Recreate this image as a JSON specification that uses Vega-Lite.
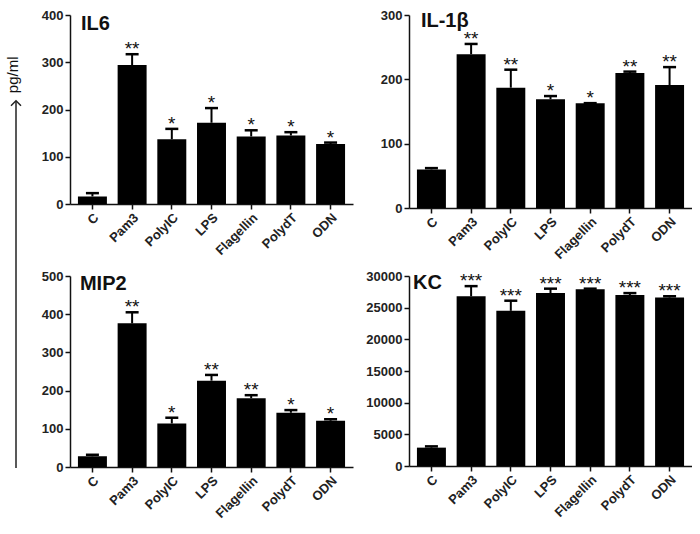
{
  "$schema": "https://vega.github.io/schema/vega-lite/v6.json",
  "padding": {"left": 5, "top": 9, "right": 0, "bottom": 0},
  "background": "white",
  "datasets": {
    "il6": [
      {"stim": "C", "mean": 16, "upper": 23, "sig": ""},
      {"stim": "Pam3", "mean": 294, "upper": 317, "sig": "**"},
      {"stim": "PolyIC", "mean": 137, "upper": 159, "sig": "*"},
      {"stim": "LPS", "mean": 172, "upper": 203, "sig": "*"},
      {"stim": "Flagellin", "mean": 143, "upper": 156, "sig": "*"},
      {"stim": "PolydT", "mean": 145, "upper": 152, "sig": "*"},
      {"stim": "ODN", "mean": 127, "upper": 130, "sig": "*"}
    ],
    "il1b": [
      {"stim": "C", "mean": 60, "upper": 62, "sig": ""},
      {"stim": "Pam3", "mean": 239, "upper": 255, "sig": "**"},
      {"stim": "PolyIC", "mean": 187, "upper": 215, "sig": "**"},
      {"stim": "LPS", "mean": 169, "upper": 174, "sig": "*"},
      {"stim": "Flagellin", "mean": 163, "upper": 163, "sig": "*"},
      {"stim": "PolydT", "mean": 210, "upper": 212, "sig": "**"},
      {"stim": "ODN", "mean": 191, "upper": 219, "sig": "**"}
    ],
    "mip2": [
      {"stim": "C", "mean": 28, "upper": 32, "sig": ""},
      {"stim": "Pam3", "mean": 376, "upper": 405, "sig": "**"},
      {"stim": "PolyIC", "mean": 114, "upper": 129, "sig": "*"},
      {"stim": "LPS", "mean": 226, "upper": 241, "sig": "**"},
      {"stim": "Flagellin", "mean": 180, "upper": 188, "sig": "**"},
      {"stim": "PolydT", "mean": 142, "upper": 149, "sig": "*"},
      {"stim": "ODN", "mean": 121, "upper": 125, "sig": "*"}
    ],
    "kc": [
      {"stim": "C", "mean": 2900, "upper": 3100, "sig": ""},
      {"stim": "Pam3", "mean": 26800, "upper": 28400, "sig": "***"},
      {"stim": "PolyIC", "mean": 24500, "upper": 26100, "sig": "***"},
      {"stim": "LPS", "mean": 27300, "upper": 28000, "sig": "***"},
      {"stim": "Flagellin", "mean": 27900, "upper": 28000, "sig": "***"},
      {"stim": "PolydT", "mean": 27000, "upper": 27300, "sig": "***"},
      {"stim": "ODN", "mean": 26600, "upper": 26800, "sig": "***"}
    ]
  },
  "spacing": 15,
  "hconcat": [
    {
      "width": 20,
      "height": 453,
      "data": {"values": [{}]},
      "layer": [
        {
          "mark": {"type": "rule", "stroke": "#222", "strokeWidth": 1.5},
          "encoding": {
            "x": {"datum": 0.5, "type": "quantitative", "scale": {"domain": [0, 1]}, "axis": null},
            "y": {"datum": 0, "type": "quantitative", "scale": {"domain": [0, 100]}, "axis": null},
            "y2": {"datum": 81}
          }
        },
        {
          "mark": {"type": "point", "shape": "M-1,0.5L0,-0.5L1,0.5", "filled": false, "stroke": "#222", "strokeWidth": 1.5, "size": 100, "opacity": 1},
          "encoding": {
            "x": {"datum": 0.5, "type": "quantitative", "axis": null},
            "y": {"datum": 80.5, "type": "quantitative", "axis": null}
          }
        },
        {
          "mark": {"type": "text", "text": "pg/ml", "angle": 270, "fontSize": 15, "align": "center", "baseline": "middle", "dy": -3, "color": "#111"},
          "encoding": {
            "x": {"datum": 0.5, "type": "quantitative", "axis": null},
            "y": {"datum": 86.8, "type": "quantitative", "axis": null}
          }
        }
      ]
    },
    {
      "columns": 2,
      "spacing": {"column": 12, "row": 8},
      "concat": [
        {
          "width": 283,
          "height": 189,
          "data": {"name": "il6"},
          "encoding": {
            "x": {"field": "stim", "type": "nominal", "sort": ["C", "Pam3", "PolyIC", "LPS", "Flagellin", "PolydT", "ODN"], "scale": {"paddingInner": 0.27, "paddingOuter": 0.2}, "axis": {"title": null, "labelAngle": -45}}
          },
          "layer": [
            {"mark": {"type": "rule", "color": "black", "strokeWidth": 2}, "encoding": {"y": {"field": "mean", "type": "quantitative", "scale": {"domain": [0, 400], "nice": false}, "axis": {"values": [0, 100, 200, 300, 400], "title": null, "labelOverlap": false}}, "y2": {"field": "upper"}}},
            {"mark": {"type": "tick", "color": "black", "size": 13, "thickness": 2.5, "opacity": 1}, "encoding": {"y": {"field": "upper", "type": "quantitative", "axis": {"values": [0, 100, 200, 300, 400], "title": null, "labelOverlap": false}}}},
            {"mark": {"type": "bar", "color": "black"}, "encoding": {"y": {"field": "mean", "type": "quantitative", "axis": {"values": [0, 100, 200, 300, 400], "title": null, "labelOverlap": false}}}},
            {"mark": {"type": "text", "fontSize": 19, "baseline": "alphabetic", "dy": 1, "color": "#111"}, "encoding": {"y": {"field": "upper", "type": "quantitative", "axis": {"values": [0, 100, 200, 300, 400], "title": null, "labelOverlap": false}}, "text": {"field": "sig"}}},
            {"data": {"values": [{}]}, "mark": {"type": "text", "text": "IL6", "fontSize": 20, "fontWeight": "bold", "align": "left", "baseline": "top", "dx": 3, "dy": -1, "color": "#111"}, "encoding": {"x": {"datum": "C", "bandPosition": 0}, "y": {"datum": 400, "type": "quantitative", "axis": {"values": [0, 100, 200, 300, 400], "title": null, "labelOverlap": false}}}}
          ]
        },
        {
          "width": 283,
          "height": 193,
          "data": {"name": "il1b"},
          "encoding": {
            "x": {"field": "stim", "type": "nominal", "sort": ["C", "Pam3", "PolyIC", "LPS", "Flagellin", "PolydT", "ODN"], "scale": {"paddingInner": 0.27, "paddingOuter": 0.2}, "axis": {"title": null, "labelAngle": -45}}
          },
          "layer": [
            {"mark": {"type": "rule", "color": "black", "strokeWidth": 2}, "encoding": {"y": {"field": "mean", "type": "quantitative", "scale": {"domain": [0, 300], "nice": false}, "axis": {"values": [0, 100, 200, 300], "title": null, "labelOverlap": false}}, "y2": {"field": "upper"}}},
            {"mark": {"type": "tick", "color": "black", "size": 13, "thickness": 2.5, "opacity": 1}, "encoding": {"y": {"field": "upper", "type": "quantitative", "axis": {"values": [0, 100, 200, 300], "title": null, "labelOverlap": false}}}},
            {"mark": {"type": "bar", "color": "black"}, "encoding": {"y": {"field": "mean", "type": "quantitative", "axis": {"values": [0, 100, 200, 300], "title": null, "labelOverlap": false}}}},
            {"mark": {"type": "text", "fontSize": 19, "baseline": "alphabetic", "dy": 1, "color": "#111"}, "encoding": {"y": {"field": "upper", "type": "quantitative", "axis": {"values": [0, 100, 200, 300], "title": null, "labelOverlap": false}}, "text": {"field": "sig"}}},
            {"data": {"values": [{}]}, "mark": {"type": "text", "text": "IL-1β", "fontSize": 20, "fontWeight": "bold", "align": "left", "baseline": "top", "dx": 4, "dy": -4, "color": "#111"}, "encoding": {"x": {"datum": "C", "bandPosition": 0}, "y": {"datum": 300, "type": "quantitative", "axis": {"values": [0, 100, 200, 300], "title": null, "labelOverlap": false}}}}
          ]
        },
        {
          "width": 283,
          "height": 191,
          "data": {"name": "mip2"},
          "encoding": {
            "x": {"field": "stim", "type": "nominal", "sort": ["C", "Pam3", "PolyIC", "LPS", "Flagellin", "PolydT", "ODN"], "scale": {"paddingInner": 0.27, "paddingOuter": 0.2}, "axis": {"title": null, "labelAngle": -45}}
          },
          "layer": [
            {"mark": {"type": "rule", "color": "black", "strokeWidth": 2}, "encoding": {"y": {"field": "mean", "type": "quantitative", "scale": {"domain": [0, 500], "nice": false}, "axis": {"values": [0, 100, 200, 300, 400, 500], "title": null, "labelOverlap": false}}, "y2": {"field": "upper"}}},
            {"mark": {"type": "tick", "color": "black", "size": 13, "thickness": 2.5, "opacity": 1}, "encoding": {"y": {"field": "upper", "type": "quantitative", "axis": {"values": [0, 100, 200, 300, 400, 500], "title": null, "labelOverlap": false}}}},
            {"mark": {"type": "bar", "color": "black"}, "encoding": {"y": {"field": "mean", "type": "quantitative", "axis": {"values": [0, 100, 200, 300, 400, 500], "title": null, "labelOverlap": false}}}},
            {"mark": {"type": "text", "fontSize": 19, "baseline": "alphabetic", "dy": 1, "color": "#111"}, "encoding": {"y": {"field": "upper", "type": "quantitative", "axis": {"values": [0, 100, 200, 300, 400, 500], "title": null, "labelOverlap": false}}, "text": {"field": "sig"}}},
            {"data": {"values": [{}]}, "mark": {"type": "text", "text": "MIP2", "fontSize": 20, "fontWeight": "bold", "align": "left", "baseline": "top", "dx": 2, "dy": -2, "color": "#111"}, "encoding": {"x": {"datum": "C", "bandPosition": 0}, "y": {"datum": 500, "type": "quantitative", "axis": {"values": [0, 100, 200, 300, 400, 500], "title": null, "labelOverlap": false}}}}
          ]
        },
        {
          "width": 283,
          "height": 190,
          "data": {"name": "kc"},
          "encoding": {
            "x": {"field": "stim", "type": "nominal", "sort": ["C", "Pam3", "PolyIC", "LPS", "Flagellin", "PolydT", "ODN"], "scale": {"paddingInner": 0.27, "paddingOuter": 0.2}, "axis": {"title": null, "labelAngle": -45}}
          },
          "layer": [
            {"mark": {"type": "rule", "color": "black", "strokeWidth": 2}, "encoding": {"y": {"field": "mean", "type": "quantitative", "scale": {"domain": [0, 30000], "nice": false}, "axis": {"values": [0, 5000, 10000, 15000, 20000, 25000, 30000], "format": "d", "title": null, "labelOverlap": false}}, "y2": {"field": "upper"}}},
            {"mark": {"type": "tick", "color": "black", "size": 13, "thickness": 2.5, "opacity": 1}, "encoding": {"y": {"field": "upper", "type": "quantitative", "axis": {"values": [0, 5000, 10000, 15000, 20000, 25000, 30000], "format": "d", "title": null, "labelOverlap": false}}}},
            {"mark": {"type": "bar", "color": "black"}, "encoding": {"y": {"field": "mean", "type": "quantitative", "axis": {"values": [0, 5000, 10000, 15000, 20000, 25000, 30000], "format": "d", "title": null, "labelOverlap": false}}}},
            {"mark": {"type": "text", "fontSize": 19, "baseline": "alphabetic", "dy": 1, "color": "#111"}, "encoding": {"y": {"field": "upper", "type": "quantitative", "axis": {"values": [0, 5000, 10000, 15000, 20000, 25000, 30000], "format": "d", "title": null, "labelOverlap": false}}, "text": {"field": "sig"}}},
            {"data": {"values": [{}]}, "mark": {"type": "text", "text": "KC", "fontSize": 20, "fontWeight": "bold", "align": "left", "baseline": "top", "dx": -4, "dy": -3, "color": "#111"}, "encoding": {"x": {"datum": "C", "bandPosition": 0}, "y": {"datum": 30000, "type": "quantitative", "axis": {"values": [0, 5000, 10000, 15000, 20000, 25000, 30000], "format": "d", "title": null, "labelOverlap": false}}}}
          ]
        }
      ]
    }
  ],
  "config": {
    "font": "Liberation Sans",
    "view": {"stroke": null},
    "text": {"font": "Liberation Sans"},
    "axis": {
      "labelFont": "Liberation Sans",
      "labelFontSize": 13,
      "labelFontWeight": "bold",
      "labelColor": "#222",
      "labelOverlap": false,
      "domainColor": "#111",
      "domainWidth": 1.5,
      "tickColor": "#111",
      "tickWidth": 1.5,
      "tickSize": 5,
      "grid": false,
      "labelPadding": 2
    }
  }
}
